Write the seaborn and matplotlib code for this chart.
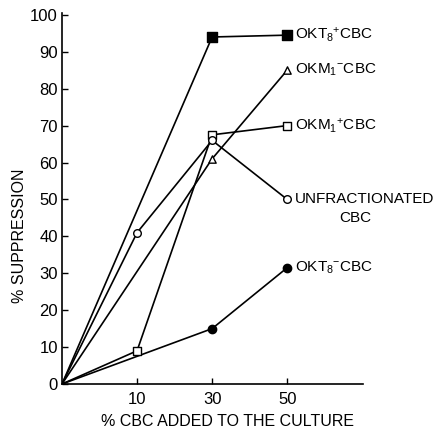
import matplotlib
matplotlib.use("Agg")
import matplotlib.pyplot as plt
import seaborn as sns
import pandas as pd
import numpy as np

# ---- data ----
x_labels = ["0", "10", "30", "50"]           # % CBC added (evenly spaced categories)
okt8_pos = [0, None, 94, 94.5]              # OKT8+ CBC (filled square)
okm1_neg = [0, None, 61, 85]                # OKM1- CBC (open triangle)
okm1_pos = [0, 9, 67.5, 70]                 # OKM1+ CBC (open square)
unfrac   = [0, 41, 66, 50]                  # Unfractionated CBC (open circle)
okt8_neg = [0, None, 15, 31.5]              # OKT8- CBC (filled circle)

series_names = ["OKT8+", "OKM1-", "OKM1+", "UNFRAC", "OKT8-"]
series_vals = [okt8_pos, okm1_neg, okm1_pos, unfrac, okt8_neg]
series_labels = ["OKT$_8$$^{+}$CBC", "OKM$_1$$^{-}$CBC", "OKM$_1$$^{+}$CBC",
                 "UNFRACTIONATED\nCBC", "OKT$_8$$^{-}$CBC"]
markers = ["s", "^", "s", "o", "o"]
faces = ["black", "white", "white", "white", "black"]
msizes = [42, 28, 34, 30, 36]

sns.set_style("ticks")
plt.rcParams["font.family"] = ["Liberation Sans", "DejaVu Sans"]
plt.rcParams["mathtext.default"] = "regular"
for key in ["text.color", "axes.labelcolor", "xtick.color", "ytick.color", "axes.edgecolor"]:
    plt.rcParams[key] = "black"

fig = plt.figure(figsize=(4.36, 4.32), dpi=100)
ax = fig.add_axes([62/436, 1-384/432, (363-62)/436, (384-13)/432])

rows = []
for name, vals in zip(series_names, series_vals):
    for i, v in enumerate(vals):
        if v is not None:
            rows.append({"series": name, "pos": i, "val": v})
df = pd.DataFrame(rows)

for k, name in enumerate(series_names):
    d = df[df.series == name]
    sns.lineplot(data=d, x="pos", y="val", ax=ax, color="black", lw=1.2,
                 estimator=None, sort=False, legend=False, zorder=2)
    dm = d[d.pos > 0]
    sns.scatterplot(data=dm, x="pos", y="val", ax=ax, marker=markers[k],
                    s=msizes[k], facecolor=faces[k], edgecolor="black",
                    linewidth=1.0, legend=False, zorder=3)
    last = d.iloc[-1]
    if name == "UNFRAC":
        ax.text(last.pos + 0.1, last.val, "UNFRACTIONATED", fontsize=11,
                va="center", ha="left")
        ax.text(3.91, last.val - 5.0, "CBC", fontsize=11,
                va="center", ha="center")
    else:
        ax.text(last.pos + 0.1, last.val, series_labels[k], fontsize=11,
                va="center", ha="left")

ax.set_xlim(0, 4.01)
ax.set_ylim(0, 100.5)
ax.set_xticks([1, 2, 3])
ax.set_xticklabels(x_labels[1:])
ax.set_yticks(np.arange(0, 101, 10))
ax.tick_params(direction="in", length=4, width=1.0, labelsize=12, colors="black")
ax.tick_params(axis="x", pad=6)
ax.tick_params(axis="y", pad=3)
for s in ["top", "right"]:
    ax.spines[s].set_visible(False)
for s in ["left", "bottom"]:
    ax.spines[s].set_linewidth(1.2)
    ax.spines[s].set_color("black")

ax.set_xlabel("% CBC ADDED TO THE CULTURE", fontsize=11.5)
ax.set_ylabel("% SUPPRESSION", fontsize=11.5)
ax.xaxis.set_label_coords(0.55, -0.08)
ax.yaxis.set_label_coords(-0.115, 0.40)

fig.savefig("out.png", dpi=100)
